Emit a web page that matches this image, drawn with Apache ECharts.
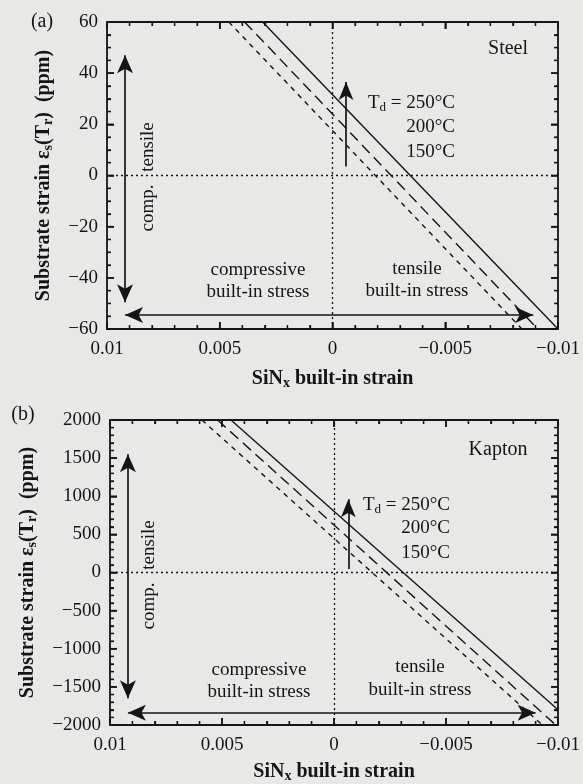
<!DOCTYPE html>
<html><head><meta charset="utf-8">
<script src="https://cdn.jsdelivr.net/npm/echarts@6/dist/echarts.min.js"></script>
<style>html,body{margin:0;padding:0;background:#e8e8e6;}#c{width:583px;height:784px;}</style>
</head><body><div id="c"></div>
<script>
// ---------- data ----------
const xRange = [-0.01, 0.01];
const xStep = 0.005;
const xMinorSplit = 5;
const steelYRange = [-60, 60];
const steelYStep = 20;
const steelMinorSplit = 4;
const kaptonYRange = [-2000, 2000];
const kaptonYStep = 500;
const kaptonMinorSplit = 5;
const tempLabels = ['250°C', '200°C', '150°C'];

// Substrate strain vs SiNx built-in strain (end points of each straight line)
const steel250 = [[0.0031, 60], [-0.0100, -60]];
const steel200 = [[0.0039, 60], [-0.0091, -60]];
const steel150 = [[0.0046, 60], [-0.0084, -60]];
const kapton250 = [[0.0046, 2000], [-0.0100, -1800]];
const kapton200 = [[0.0052, 2000], [-0.0099, -2000]];
const kapton150 = [[0.0059, 2000], [-0.0093, -2000]];

// annotation arrows (data coordinates)
const steelVArrow = [[0.0092, 47], [0.0092, -49.5]];
const steelHArrow = [[0.0092, -54.5], [-0.0089, -54.5]];
const steelTdArrow = [[-0.0006, 3.5], [-0.0006, 36.5]];
const kaptonVArrow = [[0.0092, 1550], [0.0092, -1650]];
const kaptonHArrow = [[0.0092, -1840], [-0.0090, -1840]];
const kaptonTdArrow = [[-0.00064, 45], [-0.00064, 960]];

// ---------- chart ----------
const FONT = "'Liberation Serif', 'DejaVu Serif', serif";
const INK = '#151515';
const chart = echarts.init(document.getElementById('c'));

function fmt(v) {
  if (Math.abs(v) < 1e-12) return '0';
  const s = String(parseFloat(v.toFixed(4)));
  return s.replace('-', '\u2212');
}

function tickOpt() { return {show: true, inside: true, length: 7, lineStyle: {color: INK, width: 1.5}}; }
function lineOpt() { return {show: true, onZero: false, lineStyle: {color: INK, width: 1.8}}; }
function minorOpt(n) { return {show: true, splitNumber: n, length: 4, lineStyle: {color: INK, width: 1.3}}; }
function nameRich() {
  return {rich: {
    b: {fontFamily: FONT, fontWeight: 'bold', fontSize: 20, color: INK},
    s: {fontFamily: FONT, fontWeight: 'bold', fontSize: 14, color: INK, padding: [9, 0, 0, 0]}
  }};
}

function xAxes(gi, nameGap) {
  const mk = (pos) => ({
    type: 'value', gridIndex: gi, min: xRange[0], max: xRange[1], interval: xStep,
    inverse: true, position: pos, splitLine: {show: false},
    axisLine: lineOpt(), axisTick: tickOpt(), minorTick: minorOpt(xMinorSplit)
  });
  const bottom = mk('bottom');
  bottom.axisLabel = {show: true, margin: 11, fontFamily: FONT, fontSize: 19, color: INK, formatter: fmt};
  bottom.name = '{b|SiN}{s|x}{b| built-in strain}';
  bottom.nameLocation = 'middle';
  bottom.nameGap = nameGap;
  bottom.nameTextStyle = nameRich();
  const top = mk('top');
  top.axisLabel = {show: false};
  return [bottom, top];
}

function yAxes(gi, range, step, minorSplit, nameGap) {
  const mk = (pos) => ({
    type: 'value', gridIndex: gi, min: range[0], max: range[1], interval: step,
    position: pos, splitLine: {show: false},
    axisLine: lineOpt(), axisTick: tickOpt(), minorTick: minorOpt(minorSplit)
  });
  const left = mk('left');
  left.axisLabel = {show: true, margin: 9, fontFamily: FONT, fontSize: 19, color: INK, formatter: fmt};
  left.name = '{b|Substrate strain ε}{s|s}{b|(T}{s|r}{b|)  (ppm)}';
  left.nameLocation = 'middle';
  left.nameGap = nameGap;
  left.nameTextStyle = nameRich();
  const right = mk('right');
  right.axisLabel = {show: false};
  return [left, right];
}

function arrowPair(pts, both, size) {
  return [
    {coord: pts[0].slice(), symbol: both ? 'arrow' : 'none', symbolSize: size},
    {coord: pts[1].slice(), symbol: 'arrow', symbolSize: size}
  ];
}

// tick-mark positions along the frame (derived from the axis step settings)
function tickList(lo, hi, step, split) {
  const n = Math.round((hi - lo) / step) * split;
  const out = [];
  for (let k = 0; k <= n; k++) out.push([lo + k * step / split, k % split === 0 ? 1 : 0]);
  return out;
}

function tickSeries(xi, yi, yRange, yStep, yMinor) {
  const rect = (x, y, w, h) => ({type: 'rect', shape: {x: x, y: y, width: w, height: h},
    style: {fill: INK}, silent: true});
  const xTicks = {
    type: 'custom', xAxisIndex: xi, yAxisIndex: yi, clip: false, silent: true, z: 6,
    data: tickList(xRange[0], xRange[1], xStep, xMinorSplit).map(t => [t[0], yRange[0], t[1]]),
    renderItem: function (params, api) {
      const v = api.value(0), major = api.value(2) === 1;
      const L = major ? 7 : 4, w = major ? 1.6 : 1.3;
      const pb = api.coord([v, yRange[0]]);
      const pt = api.coord([v, yRange[1]]);
      return {type: 'group', children: [
        rect(pb[0] - w / 2, pb[1] - L, w, L),
        rect(pt[0] - w / 2, pt[1], w, L)
      ]};
    }
  };
  const yTicks = {
    type: 'custom', xAxisIndex: xi, yAxisIndex: yi, clip: false, silent: true, z: 6,
    data: tickList(yRange[0], yRange[1], yStep, yMinor).map(t => [xRange[1], t[0], t[1]]),
    renderItem: function (params, api) {
      const v = api.value(1), major = api.value(2) === 1;
      const L = major ? 7 : 4, w = major ? 1.6 : 1.3;
      const pl = api.coord([xRange[1], v]);
      const pr = api.coord([xRange[0], v]);
      return {type: 'group', children: [
        rect(pl[0], pl[1] - w / 2, L, w),
        rect(pr[0] - L, pr[1] - w / 2, L, w)
      ]};
    }
  };
  return [xTicks, yTicks];
}

function panelSeries(xi, yi, lines, vArr, hArr, tdArr) {
  const dashes = ['solid', [11, 6], [5, 5]];
  const out = lines.map((d, k) => ({
    type: 'line', name: tempLabels[k], xAxisIndex: xi, yAxisIndex: yi, data: d,
    symbol: 'none', lineStyle: {color: INK, width: 1.4, type: dashes[k]}
  }));
  out[0].markLine = {
    silent: true, symbol: 'none', label: {show: false},
    lineStyle: {color: INK, width: 1.7, type: 'solid'},
    data: [
      {yAxis: 0, lineStyle: {type: [2, 3], width: 1.3, color: INK}},
      {xAxis: 0, lineStyle: {type: [2, 3], width: 1.3, color: INK}},
      arrowPair(vArr, true, [12, 18]),
      arrowPair(hArr, true, [12, 18]),
      arrowPair(tdArr, false, [11, 18])
    ]
  };
  return out;
}

function txt(x, y, text, opts) {
  opts = opts || {};
  return {
    type: 'text', x: x, y: y, rotation: opts.rot || 0, silent: true,
    style: {
      text: text, fill: INK,
      font: (opts.size || 19) + 'px ' + FONT,
      align: opts.align || 'center', verticalAlign: 'middle',
      rich: {
        n: {fontFamily: FONT, fontSize: opts.size || 19, fill: INK},
        s: {fontFamily: FONT, fontSize: 13, fill: INK, padding: [9, 0, 0, 0]}
      }
    }
  };
}

const graphics = [
  txt(42, 22, '(a)', {size: 20}),
  txt(508, 49, 'Steel', {size: 20}),
  txt(455, 103, '{n|T}{s|d}{n| = 250°C}', {align: 'right'}),
  txt(455, 127, '200°C', {align: 'right'}),
  txt(455, 152, '150°C', {align: 'right'}),
  txt(148, 147, 'tensile', {rot: Math.PI / 2}),
  txt(148, 208, 'comp.', {rot: Math.PI / 2}),
  txt(258, 270, 'compressive'),
  txt(258, 292, 'built-in stress'),
  txt(417, 269, 'tensile'),
  txt(417, 291, 'built-in stress'),

  txt(23, 415, '(b)', {size: 20}),
  txt(498, 450, 'Kapton', {size: 20}),
  txt(450, 505, '{n|T}{s|d}{n| = 250°C}', {align: 'right'}),
  txt(450, 528, '200°C', {align: 'right'}),
  txt(450, 553, '150°C', {align: 'right'}),
  txt(149, 545, 'tensile', {rot: Math.PI / 2}),
  txt(149, 606, 'comp.', {rot: Math.PI / 2}),
  txt(259, 670, 'compressive'),
  txt(259, 692, 'built-in stress'),
  txt(420, 667, 'tensile'),
  txt(420, 690, 'built-in stress')
];

const option = {
  backgroundColor: '#e8e8e6',
  animation: false,
  grid: [
    {left: 107, top: 22, width: 453, height: 307},
    {left: 110, top: 420, width: 451, height: 307}
  ],
  xAxis: [].concat(xAxes(0, 38), xAxes(1, 35)),
  yAxis: [].concat(
    yAxes(0, steelYRange, steelYStep, steelMinorSplit, 52),
    yAxes(1, kaptonYRange, kaptonYStep, kaptonMinorSplit, 71)
  ),
  series: [].concat(
    panelSeries(0, 0, [steel250, steel200, steel150], steelVArrow, steelHArrow, steelTdArrow),
    panelSeries(2, 2, [kapton250, kapton200, kapton150], kaptonVArrow, kaptonHArrow, kaptonTdArrow),
    tickSeries(0, 0, steelYRange, steelYStep, steelMinorSplit),
    tickSeries(2, 2, kaptonYRange, kaptonYStep, kaptonMinorSplit)
  ),
  graphic: graphics
};
chart.setOption(option);
</script>
</body></html>
